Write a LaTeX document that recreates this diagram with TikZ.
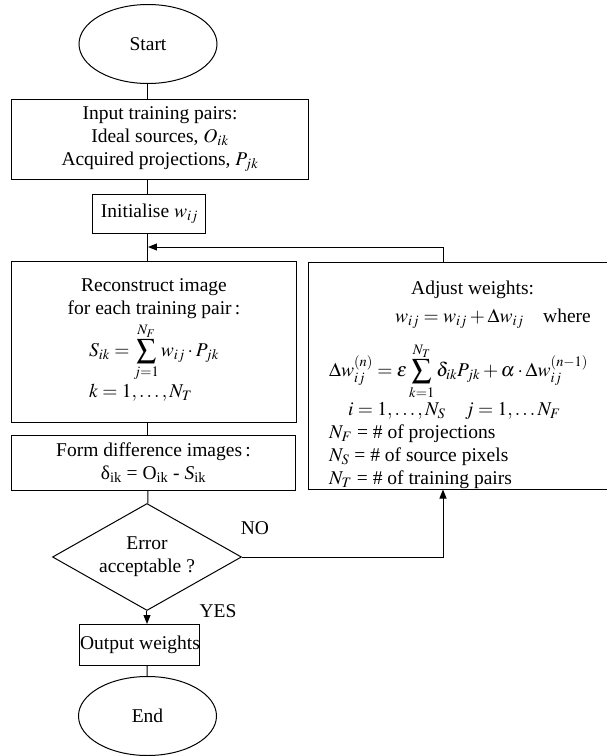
\documentclass[tikz,border=0pt]{standalone}
\usepackage{mathptmx}
\usepackage[no-math]{fontspec}
\setmainfont{Liberation Serif}
\usepackage{tikz}
\usetikzlibrary{shapes.geometric, arrows, arrows.meta, positioning, calc}
\tikzstyle{startstop} = [ellipse,
minimum width=138pt,
minimum height=79pt,
inner sep=0pt,
draw=black]
\tikzstyle{process} = [rectangle,
inner sep=0pt,
align=center,
draw=black]
\tikzstyle{decision} = [diamond,
aspect=1.77,
minimum width=189pt,
minimum height=107pt,
inner sep=0pt,
align=center,
draw=black]
\tikzstyle{answer} = [inner sep=0pt]
\tikzstyle{line} = [line width=1pt]
\tikzstyle{arrow} = [line width=1pt,->,>={Stealth[length=9pt,width=7pt,inset=0pt]}]

\begin{document}
\begin{tikzpicture}[node distance=80pt, x=1pt, y=1pt, line width=1pt,
    font=\fontsize{19.5}{23}\selectfont]
                \useasboundingbox (-148,44) rectangle (459,-712);
                \node (start) [startstop] {Start};
                \node (input) [process, below of=start, yshift=-15pt, xshift=12pt, minimum width=296pt, minimum height=80pt]
                    {Input training pairs:\\ Ideal sources, $O_{ik}$\\ Acquired projections, $P_{jk}$};
                \node (init) [process, below of=input, yshift=5.5pt, xshift=-10.5pt, minimum width=113pt, minimum height=39pt]
                    {Initialise $w_{ij}$};
                \node (recon) [process, below of=init, yshift=-48pt, xshift=4.5pt, minimum width=284pt, minimum height=161pt]
                    {Reconstruct image\\ for each training pair\,:\\[4pt]
                     \begin{tabular}{@{}l@{}}
                     $\displaystyle S_{ik} = \sum_{j=1}^{N_F} w_{ij}\cdot P_{jk}$\\[5pt]
                     $k = 1,\ldots,N_T$
                     \end{tabular}};
                \node (form) [process, below of=recon, yshift=-41pt, xshift=-0.5pt, minimum width=283pt, minimum height=55pt]
                    {Form difference images\,:\\ δ\textsubscript{ik} = O\textsubscript{ik} - \textit{S}\textsubscript{ik}};
                \node (dec) [decision, below of=form, yshift=-14.5pt, xshift=-6.5pt] {Error\\ acceptable ?};
                \node (out) [process, below of=dec, yshift=-8pt, xshift=-7pt, minimum width=120pt, minimum height=41pt]
                    {Output weights};
                \node (end) [startstop, below of=out, yshift=9pt, xshift=7.5pt] {End};
                \node (adjust) [process, align=left, right of=recon, xshift=226pt, yshift=-34pt, minimum width=304pt, minimum height=227pt]
                    {\rule{0pt}{32pt}\hspace*{82pt}Adjust weights:\\[5pt]
                     \hspace*{66pt}$w_{ij} = w_{ij} + \Delta w_{ij}$\quad where\\[14pt]
                     $\displaystyle \Delta w_{ij}^{(n)} = \varepsilon\sum_{k=1}^{N_T}\delta_{ik}P_{jk} + \alpha\cdot\Delta w_{ij}^{(n-1)}$\\[2pt]
                     \hspace*{19pt}$i = 1,\ldots,N_S \quad j = 1,\ldots N_F$\\
                     $N_F$ = \# of projections\\
                     $N_S$ = \# of source pixels\\
                     $N_T$ = \# of training pairs};
                \node (no) [answer] at ([xshift=13pt, yshift=29pt]dec.east) {NO};
                \node (yes) [answer] at ([xshift=71pt]dec.south) {YES};
                \coordinate (join) at ($(init.south)!0.5!(recon.north)$);

                \draw [line] (start) -- (start |- input.north);
                \draw [line] (start |- input.south) -- (start |- init.north);
                \draw [line] (start |- init.south) -- (start |- recon.north);
                \draw [line] (start |- recon.south) -- (start |- form.north);
                \draw [line] (start |- form.south) -- (dec);
                \draw [arrow] (dec) -- (dec |- out.north);
                \draw [line] (dec |- out.south) -- (end);
                \draw [arrow] (dec.east) -| ([xshift=-17pt]adjust.south);
                \draw [arrow] ([xshift=-17pt]adjust.north) |- (start |- join);
            \end{tikzpicture}
\end{document}
